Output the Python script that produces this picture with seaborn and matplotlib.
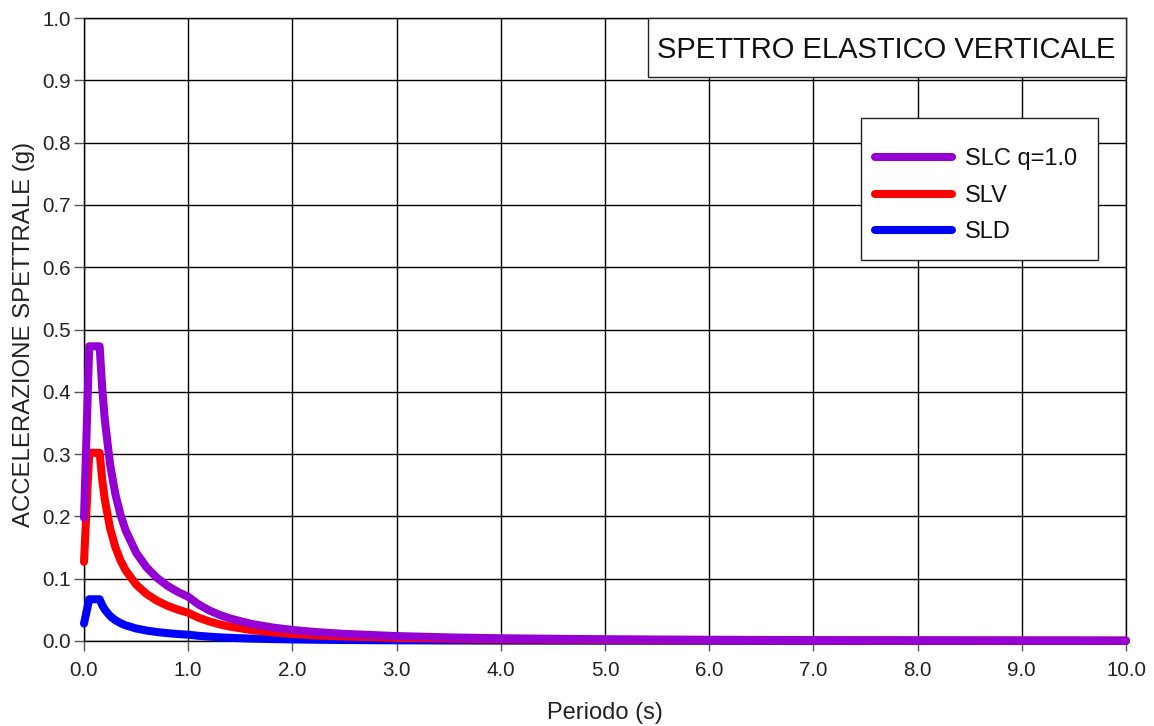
import matplotlib
matplotlib.use("Agg")
import matplotlib.pyplot as plt
from matplotlib.patches import Rectangle
import pandas as pd
import seaborn as sns

# Periods (s) at which the spectra are tabulated
periods = [0.0, 0.05, 0.15, 0.175, 0.2, 0.25, 0.3, 0.35, 0.4, 0.5, 0.6, 0.7,
           0.8, 0.9, 1.0, 1.1, 1.2, 1.3, 1.4, 1.6, 1.8, 2.0, 2.25, 2.5, 3.0,
           3.5, 4.0, 5.0, 6.0, 7.0, 8.0, 9.0, 10.0]

# Spectral acceleration (g) for each limit state
slc = [0.198, 0.473, 0.473, 0.4054, 0.3548, 0.2838, 0.2365, 0.2027, 0.1774,
       0.1419, 0.1183, 0.1014, 0.0887, 0.0788, 0.0710, 0.0586, 0.0493, 0.0420,
       0.0362, 0.0277, 0.0219, 0.0177, 0.0140, 0.0114, 0.0079, 0.0058, 0.0044,
       0.0028, 0.0020, 0.0014, 0.0011, 0.0009, 0.0007]
slv = [0.127, 0.302, 0.302, 0.2589, 0.2265, 0.1812, 0.1510, 0.1294, 0.1133,
       0.0906, 0.0755, 0.0647, 0.0566, 0.0503, 0.0453, 0.0374, 0.0315, 0.0268,
       0.0231, 0.0177, 0.0140, 0.0113, 0.0089, 0.0072, 0.0050, 0.0037, 0.0028,
       0.0018, 0.0013, 0.0009, 0.0007, 0.0006, 0.0005]
sld = [0.028, 0.067, 0.067, 0.0574, 0.0503, 0.0402, 0.0335, 0.0287, 0.0251,
       0.0201, 0.0168, 0.0144, 0.0126, 0.0112, 0.0101, 0.0083, 0.0070, 0.0059,
       0.0051, 0.0039, 0.0031, 0.0025, 0.0020, 0.0016, 0.0011, 0.0008, 0.0006,
       0.0004, 0.0003, 0.0002, 0.0002, 0.0001, 0.0001]

series_names = ["SLC q=1.0", "SLV", "SLD"]
series_colors = ["#9400D3", "#FF0000", "#0000FF"]

x_ticks = [0.0, 1.0, 2.0, 3.0, 4.0, 5.0, 6.0, 7.0, 8.0, 9.0, 10.0]
y_ticks = [0.0, 0.1, 0.2, 0.3, 0.4, 0.5, 0.6, 0.7, 0.8, 0.9, 1.0]

title_text = "SPETTRO ELASTICO VERTICALE"
x_label = "Periodo (s)"
y_label = "ACCELERAZIONE SPETTRALE (g)"

frames = []
for name, vals in zip(series_names, [slc, slv, sld]):
    frames.append(pd.DataFrame({"T": periods, "Se": vals, "serie": name}))
df = pd.concat(frames, ignore_index=True)

sns.set_theme(style="white")
plt.rcParams["font.family"] = ["Liberation Sans", "DejaVu Sans"]

fig = plt.figure(figsize=(11.54, 7.26), dpi=100)
ax = fig.add_axes([84 / 1154, 1 - 641 / 726, 1042 / 1154, 623 / 726])

# draw SLD first so SLC ends up on top
handles = {}
for name, color in reversed(list(zip(series_names, series_colors))):
    sub = df[df["serie"] == name]
    sns.lineplot(data=sub, x="T", y="Se", ax=ax, color=color, linewidth=5.8,
                 solid_capstyle="round", solid_joinstyle="round",
                 estimator=None, sort=False, legend=False, zorder=3)
    line = ax.lines[-1]
    line.set_clip_on(False)
    handles[name] = line

ax.set_xlim(0, 10)
ax.set_ylim(0, 1.0)
ax.set_xticks(x_ticks)
ax.set_yticks(y_ticks)
ax.set_xticklabels([f"{v:.1f}" for v in x_ticks])
ax.set_yticklabels([f"{v:.1f}" for v in y_ticks])
ax.grid(True, color="black", linewidth=1.0)
ax.set_axisbelow(True)
for s in ax.spines.values():
    s.set_color("black")
    s.set_linewidth(1.0)
ax.tick_params(axis="both", which="major", direction="out", length=7.5,
               width=1, color="#555555", labelsize=14.8, labelcolor="#222222",
               left=True, bottom=True, pad=2)
ax.tick_params(axis="x", pad=7)

ax.set_xlabel(x_label, fontsize=17, color="#222222")
ax.set_ylabel(y_label, fontsize=17.3, color="#222222")
ax.xaxis.set_label_coords(0.5, -0.098)
ax.yaxis.set_label_coords(-0.047, 0.4928)

# title box in the upper right corner of the plotting area
ax.add_patch(Rectangle((0.5413, 0.9053), 0.4587, 0.0947, transform=ax.transAxes,
                       facecolor="white", edgecolor="#222222", linewidth=1.0,
                       zorder=5, clip_on=False))
ax.text(0.7702, 0.9358, title_text, transform=ax.transAxes, ha="center",
        va="baseline", fontsize=21, color="#111111", zorder=6)

# legend frame and entries
ax.add_patch(Rectangle((0.7457, 0.6116), 0.2274, 0.2279, transform=ax.transAxes,
                       facecolor="white", edgecolor="#222222", linewidth=1.0,
                       zorder=5, clip_on=False))
leg = ax.legend([handles[n] for n in series_names], series_names,
                loc="upper left", bbox_to_anchor=(0.7591, 0.7906),
                fontsize=17, frameon=False, handlelength=3.25,
                handletextpad=0.55, borderpad=0, labelspacing=0.61,
                borderaxespad=0)
leg.set_zorder(7)
for t in leg.get_texts():
    t.set_color("#111111")

fig.savefig("out.png", dpi=100, facecolor="white")
